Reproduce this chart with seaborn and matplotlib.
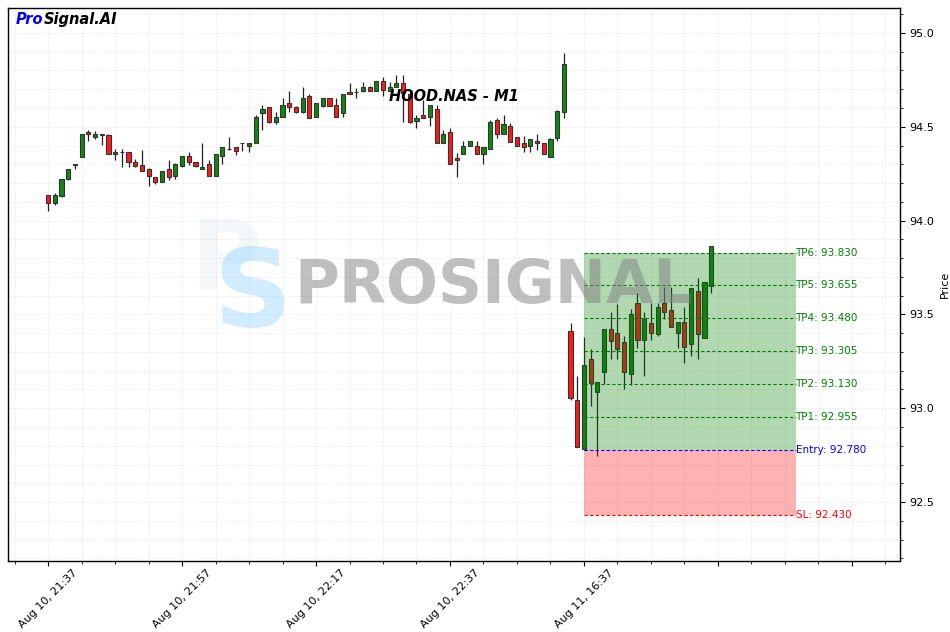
import numpy as np
import pandas as pd
import matplotlib
matplotlib.use("Agg")
import matplotlib.pyplot as plt
import seaborn as sns

# ---------------------------------------------------------------
# data (M1 candles, one per bar index)
# ---------------------------------------------------------------
opens = [94.135, 94.092, 94.133, 94.220, 94.295, 94.341, 94.471, 94.444, 94.456, 94.456,
         94.353, 94.364, 94.364, 94.311, 94.295, 94.273, 94.231, 94.204, 94.273, 94.240,
         94.293, 94.344, 94.311, 94.273, 94.300, 94.240, 94.344, 94.380, 94.391, 94.412,
         94.400, 94.412, 94.572, 94.604, 94.524, 94.550, 94.629, 94.604, 94.581, 94.664,
         94.550, 94.613, 94.652, 94.616, 94.572, 94.684, 94.684, 94.693, 94.710, 94.693,
         94.744, 94.693, 94.710, 94.731, 94.675, 94.533, 94.563, 94.550, 94.595, 94.412,
         94.471, 94.335, 94.353, 94.399, 94.399, 94.353, 94.380, 94.536, 94.460, 94.504,
         94.444, 94.412, 94.399, 94.424, 94.412, 94.341, 94.442, 94.581, 93.411, 93.044,
         92.781, 93.262, 93.088, 93.191, 93.422, 93.399, 93.351, 93.181, 93.559, 93.364,
         93.452, 93.394, 93.559, 93.523, 93.399, 93.461, 93.340, 93.625, 93.372, 93.651]
highs = [94.138, 94.149, 94.220, 94.273, 94.302, 94.460, 94.483, 94.480, 94.460, 94.460,
         94.380, 94.380, 94.364, 94.328, 94.376, 94.279, 94.234, 94.265, 94.323, 94.305,
         94.344, 94.368, 94.311, 94.412, 94.323, 94.353, 94.391, 94.444, 94.391, 94.415,
         94.412, 94.563, 94.616, 94.604, 94.581, 94.652, 94.693, 94.611, 94.710, 94.673,
         94.625, 94.652, 94.652, 94.652, 94.673, 94.732, 94.705, 94.740, 94.717, 94.744,
         94.764, 94.740, 94.776, 94.776, 94.680, 94.563, 94.643, 94.616, 94.616, 94.483,
         94.492, 94.362, 94.424, 94.424, 94.424, 94.391, 94.536, 94.545, 94.563, 94.522,
         94.444, 94.453, 94.433, 94.460, 94.412, 94.442, 94.590, 94.892, 93.452, 93.173,
         93.381, 93.316, 93.141, 93.422, 93.511, 93.554, 93.387, 93.529, 93.612, 93.511,
         93.559, 93.559, 93.648, 93.648, 93.461, 93.541, 93.639, 93.692, 93.671, 93.865]
lows = [94.051, 94.082, 94.128, 94.217, 94.273, 94.341, 94.424, 94.433, 94.403, 94.353,
        94.323, 94.284, 94.284, 94.284, 94.263, 94.185, 94.194, 94.204, 94.217, 94.220,
        94.284, 94.297, 94.284, 94.273, 94.240, 94.240, 94.300, 94.375, 94.350, 94.373,
        94.364, 94.412, 94.483, 94.519, 94.515, 94.550, 94.577, 94.572, 94.572, 94.545,
        94.550, 94.607, 94.613, 94.550, 94.550, 94.673, 94.652, 94.684, 94.693, 94.693,
        94.664, 94.693, 94.710, 94.527, 94.520, 94.492, 94.545, 94.504, 94.412, 94.412,
        94.300, 94.231, 94.353, 94.399, 94.353, 94.300, 94.380, 94.442, 94.460, 94.421,
        94.399, 94.364, 94.364, 94.376, 94.353, 94.341, 94.424, 94.545, 93.044, 92.791,
        92.781, 93.012, 92.747, 93.127, 93.262, 93.262, 93.101, 93.124, 93.319, 93.172,
        93.364, 93.385, 93.474, 93.431, 93.319, 93.239, 93.280, 93.260, 93.372, 93.612]
closes = [94.092, 94.135, 94.220, 94.273, 94.297, 94.460, 94.460, 94.460, 94.456, 94.353,
          94.364, 94.364, 94.311, 94.293, 94.263, 94.240, 94.204, 94.263, 94.231, 94.302,
          94.344, 94.311, 94.293, 94.284, 94.240, 94.353, 94.391, 94.380, 94.373, 94.412,
          94.412, 94.551, 94.593, 94.524, 94.551, 94.616, 94.604, 94.581, 94.652, 94.545,
          94.625, 94.652, 94.613, 94.550, 94.673, 94.673, 94.684, 94.710, 94.693, 94.744,
          94.696, 94.710, 94.731, 94.680, 94.524, 94.549, 94.545, 94.616, 94.412, 94.460,
          94.300, 94.323, 94.399, 94.424, 94.353, 94.391, 94.524, 94.460, 94.513, 94.421,
          94.399, 94.391, 94.433, 94.412, 94.353, 94.433, 94.584, 94.833, 93.053, 92.791,
          93.230, 93.133, 93.141, 93.422, 93.360, 93.314, 93.191, 93.500, 93.364, 93.475,
          93.399, 93.541, 93.511, 93.431, 93.461, 93.328, 93.639, 93.394, 93.671, 93.865]

tick_pos = [0, 20, 40, 60, 80, 100, 120]
tick_labels = ["Aug 10, 21:37", "Aug 10, 21:57", "Aug 10, 22:17", "Aug 10, 22:37",
               "Aug 11, 16:37", "", ""]

symbol = "HOOD.NAS - M1"
entry_bar = 80
entry = 92.780
stop_loss = 92.430
tp_names = ["TP1", "TP2", "TP3", "TP4", "TP5", "TP6"]
tp_levels = [92.955, 93.130, 93.305, 93.480, 93.655, 93.830]

df = pd.DataFrame({"open": opens, "high": highs, "low": lows, "close": closes})
df["bar"] = np.arange(len(df))
df["up"] = df["close"] >= df["open"]

# ---------------------------------------------------------------
# plot
# ---------------------------------------------------------------
sns.set_style("ticks")
plt.rcParams["font.family"] = ["DejaVu Sans"]
plt.rcParams.update({"text.color": "black", "axes.labelcolor": "black",
                     "xtick.color": "black", "ytick.color": "black"})

fig, ax = plt.subplots(figsize=(9.5, 6.32), dpi=100)
fig.subplots_adjust(left=8 / 950, right=900 / 950, top=1 - 8 / 632, bottom=1 - 561 / 632)

# wicks + bodies
ax.vlines(df["bar"], df["low"], df["high"], color="#222222", lw=0.9, zorder=2)
body_lo = df[["open", "close"]].min(axis=1)
body_h = (df["close"] - df["open"]).abs().clip(lower=0.004)
colors = np.where(df["up"], "#118811", "#ff1a1a")
ax.bar(df["bar"], body_h, bottom=body_lo, width=0.62, color=colors,
       edgecolor="#333333", linewidth=0.8, zorder=2)

# trade zone
zone_end = 111.6
ax.fill_between([entry_bar, zone_end], entry, max(tp_levels), color="green",
                alpha=0.3, lw=0, zorder=3)
ax.fill_between([entry_bar, zone_end], stop_loss, entry, color="red",
                alpha=0.3, lw=0, zorder=3)
for name, lvl in zip(tp_names, tp_levels):
    ax.hlines(lvl, entry_bar, zone_end, color="green", linestyles=(0, (3, 2)), lw=0.8, zorder=4)
    ax.text(zone_end, lvl, f"{name}: {lvl:.3f}", color="green", fontsize=7.5,
            va="center", ha="left", zorder=5)
ax.hlines(entry, entry_bar, zone_end, color="blue", linestyles=(0, (3, 2)), lw=0.8, zorder=4)
ax.text(zone_end, entry, f"Entry: {entry:.3f}", color="blue", fontsize=7.5,
        va="center", ha="left", zorder=5)
ax.hlines(stop_loss, entry_bar, zone_end, color="red", linestyles=(0, (3, 2)), lw=0.8, zorder=4)
ax.text(zone_end, stop_loss, f"SL: {stop_loss:.3f}", color="red", fontsize=7.5,
        va="center", ha="left", zorder=5)

# watermark
ax.text(26.5, 93.78, "P", fontsize=70, fontweight="bold", color="#dde8f2",
        alpha=0.3, ha="center", va="center", zorder=0)
ax.text(30.5, 93.60, "S", fontsize=78, fontweight="bold", color="#8ccfff",
        alpha=0.4, ha="center", va="center", zorder=1)
ax.text(66.5, 93.65, "PROSIGNAL", fontsize=44, fontweight="bold", color="gray",
        alpha=0.5, ha="center", va="center", zorder=6)

# titles
ax.text(0.5, 0.84, symbol, transform=ax.transAxes, fontsize=10.5, color="black",
        fontweight="bold", fontstyle="italic", ha="center", va="center", zorder=7)
t1 = ax.text(0.009, 0.98, "Pro", transform=ax.transAxes, fontsize=10.5, color="blue",
             fontweight="bold", fontstyle="italic", ha="left", va="center")
fig.canvas.draw()
ax.annotate("Signal.AI", xycoords=t1, xy=(1, 0.5), va="center", ha="left",
            fontsize=10.5, fontweight="bold", fontstyle="italic", color="black")

# axes
ax.set_xlim(-6, 127.2)
ax.set_ylim(92.186, 95.133)
ax.yaxis.tick_right()
ax.yaxis.set_label_position("right")
ax.set_ylabel("Price", fontsize=8)
ax.set_xticks(tick_pos)
ax.set_xticklabels(tick_labels, rotation=45, ha="center", fontsize=8)
ax.set_xticks(np.arange(-5, 127, 5), minor=True)
ax.set_yticks([92.5, 93.0, 93.5, 94.0, 94.5, 95.0])
ax.set_yticks(np.arange(92.2, 95.15, 0.1), minor=True)
ax.tick_params(axis="y", labelsize=8)
ax.tick_params(axis="x", pad=1)
ax.grid(True, which="both", color="#dddddd", linestyle="--", lw=0.5, alpha=0.6)
for sp in ax.spines.values():
    sp.set_color("black")
    sp.set_linewidth(1.0)

fig.savefig("out.png", dpi=100)
